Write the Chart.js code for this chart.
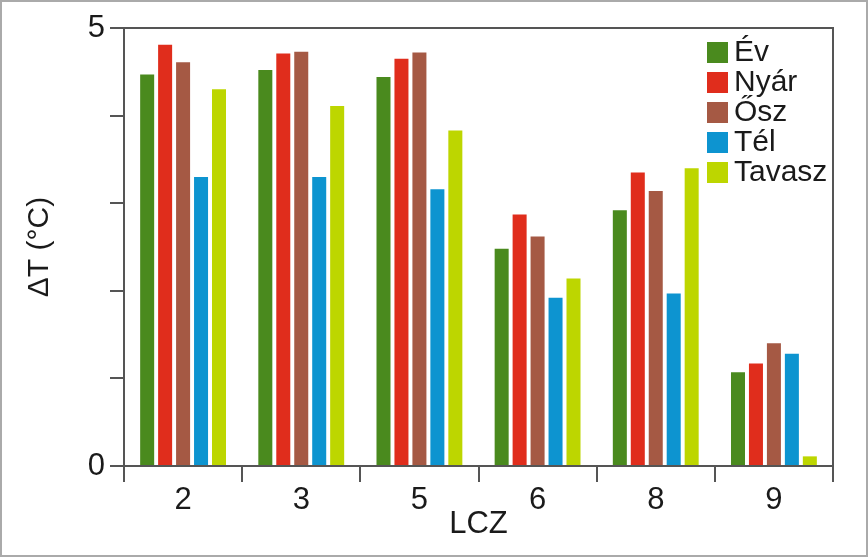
<!DOCTYPE html>
<html>
<head>
<meta charset="utf-8">
<script src="https://cdn.jsdelivr.net/npm/chart.js@4.4.0/dist/chart.umd.min.js"></script>
<style>
  html, body { margin: 0; padding: 0; background: #fff; }
  #wrap { width: 868px; height: 557px; position: relative; }
</style>
</head>
<body>
<div id="wrap"><canvas id="grafico" width="868" height="557"></canvas></div>
<script>
// LCZ categories and the mean temperature difference per season
const categorias = ["2", "3", "5", "6", "8", "9"];
const ev = [4.47, 4.52, 4.44, 2.48, 2.92, 1.07];
const nyar = [4.81, 4.71, 4.65, 2.87, 3.35, 1.17];
const osz = [4.61, 4.73, 4.72, 2.62, 3.14, 1.40];
const tel = [3.30, 3.30, 3.16, 1.92, 1.97, 1.28];
const tavasz = [4.30, 4.11, 3.83, 2.14, 3.40, 0.11];
const yTicksShown = [0, 5];

const lineColor = "#555555";

function serie(label, data, color) {
  return {
    label: label,
    data: data,
    backgroundColor: color,
    borderWidth: 0,
    categoryPercentage: 0.76,
    barPercentage: 0.78,
  };
}

// frame around the whole picture + box around the plot
const framePlugin = {
  id: "frame",
  afterDraw: function (chart) {
    const ctx = chart.ctx;
    const a = chart.chartArea;
    ctx.save();
    ctx.strokeStyle = "#aaaaaa";
    ctx.lineWidth = 2;
    ctx.strokeRect(1, 1, chart.width - 2, chart.height - 2);
    ctx.strokeStyle = lineColor;
    ctx.lineWidth = 2;
    ctx.beginPath();
    ctx.moveTo(a.left, a.top);
    ctx.lineTo(a.right, a.top);
    ctx.lineTo(a.right, a.bottom);
    ctx.stroke();
    ctx.restore();
  },
};

// vertical legend inside the plot, top right
const legendPlugin = {
  id: "leyenda",
  afterDraw: function (chart) {
    const ctx = chart.ctx;
    const x = 707;
    let y = 52;
    ctx.save();
    ctx.font = "30px 'Liberation Sans', Arial, sans-serif";
    ctx.textBaseline = "middle";
    ctx.textAlign = "left";
    chart.data.datasets.forEach(function (ds) {
      ctx.fillStyle = ds.backgroundColor;
      ctx.fillRect(x, y - 10, 21, 21);
      ctx.fillStyle = "#1a1a1a";
      ctx.fillText(ds.label, x + 27, y + 1);
      y += 30;
    });
    ctx.restore();
  },
};

const context = document.getElementById("grafico");
const grafico = new Chart(context, {
  type: "bar",
  data: {
    labels: categorias,
    datasets: [
      serie("Év", ev, "#4a8a1e"),
      serie("Nyár", nyar, "#e02d1c"),
      serie("Ősz", osz, "#a55944"),
      serie("Tél", tel, "#0d94d0"),
      serie("Tavasz", tavasz, "#bdd600"),
    ],
  },
  options: {
    responsive: false,
    animation: false,
    layout: { padding: { top: 28, right: 35, left: 0, bottom: 0 } },
    plugins: {
      legend: { display: false },
      tooltip: { enabled: false },
    },
    scales: {
      x: {
        grid: {
          display: true,
          offset: true,
          drawOnChartArea: false,
          drawTicks: true,
          tickLength: 16,
          color: lineColor,
          lineWidth: 2,
        },
        border: { display: true, color: lineColor, width: 2 },
        ticks: {
          color: "#1a1a1a",
          padding: 0,
          font: { family: "'Liberation Sans', Arial, sans-serif", size: 31 },
        },
        title: {
          display: true,
          text: "LCZ",
          color: "#1a1a1a",
          padding: { top: 0, bottom: 14 },
          font: { family: "'Liberation Sans', Arial, sans-serif", size: 31 },
        },
        afterFit: function (scale) {
          scale.height = 91;
        },
      },
      y: {
        min: 0,
        max: 5,
        ticks: {
          stepSize: 1,
          color: "#1a1a1a",
          padding: 5,
          font: { family: "'Liberation Sans', Arial, sans-serif", size: 31 },
          callback: function (v) {
            return yTicksShown.includes(v) ? v : "";
          },
        },
        grid: {
          display: true,
          drawOnChartArea: false,
          drawTicks: true,
          tickLength: 14,
          color: lineColor,
          lineWidth: 2,
        },
        border: { display: true, color: lineColor, width: 2 },
        title: {
          display: true,
          text: "ΔT (°C)",
          color: "#1a1a1a",
          padding: { top: 22, bottom: 0 },
          font: { family: "'Liberation Sans', Arial, sans-serif", size: 30 },
        },
        afterFit: function (scale) {
          scale.width = 124;
        },
      },
    },
  },
  plugins: [framePlugin, legendPlugin],
});
</script>
</body>
</html>
